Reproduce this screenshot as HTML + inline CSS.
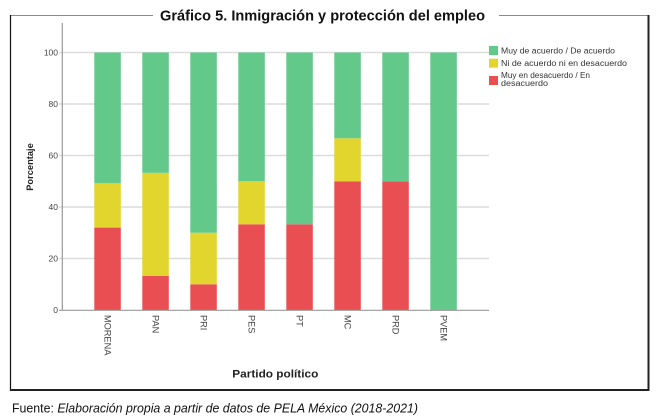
<!DOCTYPE html>
<html>
<head>
<meta charset="utf-8">
<style>
html,body{margin:0;padding:0;background:#fff;}
svg{display:block;}
text{font-family:"Liberation Sans",Arial,sans-serif;}
</style>
</head>
<body>
<svg width="660" height="418" viewBox="0 0 660 418" xmlns="http://www.w3.org/2000/svg">
  <rect width="660" height="418" fill="#fff"/>
  <!-- frame -->
  <line x1="10" y1="15.5" x2="153" y2="15.5" stroke="#8a8a8a" stroke-width="1"/>
  <line x1="499" y1="15.5" x2="649" y2="15.5" stroke="#8a8a8a" stroke-width="1"/>
  <line x1="10.5" y1="15" x2="10.5" y2="391" stroke="#111" stroke-width="1.2"/>
  <line x1="648.5" y1="15" x2="648.5" y2="391" stroke="#222" stroke-width="2"/>
  <line x1="10" y1="390" x2="649.5" y2="390" stroke="#222" stroke-width="2"/>
  <!-- title -->
  <text x="160" y="20.5" font-size="15" font-weight="bold" fill="#111" textLength="325" lengthAdjust="spacingAndGlyphs">Gráfico 5.  Inmigración y protección del empleo</text>

  <!-- gridlines -->
  <g stroke="#dcdcdc" stroke-width="1.5">
    <line x1="59" y1="52.5" x2="489" y2="52.5"/>
    <line x1="59" y1="104" x2="489" y2="104"/>
    <line x1="59" y1="155.5" x2="489" y2="155.5"/>
    <line x1="59" y1="207" x2="489" y2="207"/>
    <line x1="59" y1="258.5" x2="489" y2="258.5"/>
  </g>
  <!-- tick labels -->
  <g font-size="8.5" fill="#444" text-anchor="end">
    <text x="58" y="55.5">100</text>
    <text x="58" y="107">80</text>
    <text x="58" y="158.5">60</text>
    <text x="58" y="210">40</text>
    <text x="58" y="261.5">20</text>
    <text x="58" y="313">0</text>
  </g>
  <text transform="translate(33,167) rotate(-90)" font-size="9.3" font-weight="bold" fill="#222" text-anchor="middle">Porcentaje</text>

  <!-- bars -->
  <g>
    <!-- MORENA -->
    <rect x="94.3" y="227.6" width="26.5" height="82.4" fill="#e94e52"/>
    <rect x="94.3" y="183.3" width="26.5" height="44.3" fill="#e1d52e"/>
    <rect x="94.3" y="52.5" width="26.5" height="130.8" fill="#62c98b"/>
    <!-- PAN -->
    <rect x="142.3" y="276" width="26.5" height="34" fill="#e94e52"/>
    <rect x="142.3" y="172.8" width="26.5" height="103.2" fill="#e1d52e"/>
    <rect x="142.3" y="52.5" width="26.5" height="120.3" fill="#62c98b"/>
    <!-- PRI -->
    <rect x="190.3" y="284.3" width="26.5" height="25.7" fill="#e94e52"/>
    <rect x="190.3" y="232.7" width="26.5" height="51.6" fill="#e1d52e"/>
    <rect x="190.3" y="52.5" width="26.5" height="180.2" fill="#62c98b"/>
    <!-- PES -->
    <rect x="238.3" y="224.3" width="26.5" height="85.7" fill="#e94e52"/>
    <rect x="238.3" y="181.3" width="26.5" height="43" fill="#e1d52e"/>
    <rect x="238.3" y="52.5" width="26.5" height="128.8" fill="#62c98b"/>
    <!-- PT -->
    <rect x="286.3" y="224.3" width="26.5" height="85.7" fill="#e94e52"/>
    <rect x="286.3" y="52.5" width="26.5" height="171.8" fill="#62c98b"/>
    <!-- MC -->
    <rect x="334.3" y="181.3" width="26.5" height="128.7" fill="#e94e52"/>
    <rect x="334.3" y="138.3" width="26.5" height="43" fill="#e1d52e"/>
    <rect x="334.3" y="52.5" width="26.5" height="85.8" fill="#62c98b"/>
    <!-- PRD -->
    <rect x="382.3" y="181.3" width="26.5" height="128.7" fill="#e94e52"/>
    <rect x="382.3" y="52.5" width="26.5" height="128.8" fill="#62c98b"/>
    <!-- PVEM -->
    <rect x="430.3" y="52.5" width="26.5" height="257.5" fill="#62c98b"/>
  </g>

  <!-- axes -->
  <line x1="62.3" y1="23" x2="62.3" y2="310.5" stroke="#999" stroke-width="1.2"/>
  <line x1="59" y1="310.3" x2="489" y2="310.3" stroke="#999" stroke-width="1.2"/>

  <!-- x labels -->
  <g font-size="9.2" fill="#444">
    <text transform="translate(107.5,315) rotate(90)" dominant-baseline="central">MORENA</text>
    <text transform="translate(155.5,315) rotate(90)" dominant-baseline="central">PAN</text>
    <text transform="translate(203.5,315) rotate(90)" dominant-baseline="central">PRI</text>
    <text transform="translate(251.5,315) rotate(90)" dominant-baseline="central">PES</text>
    <text transform="translate(299.5,315) rotate(90)" dominant-baseline="central">PT</text>
    <text transform="translate(347.5,315) rotate(90)" dominant-baseline="central">MC</text>
    <text transform="translate(395.5,315) rotate(90)" dominant-baseline="central">PRD</text>
    <text transform="translate(443.5,315) rotate(90)" dominant-baseline="central">PVEM</text>
  </g>
  <text x="232.3" y="377.3" font-size="11" font-weight="bold" fill="#222" textLength="86" lengthAdjust="spacingAndGlyphs">Partido político</text>

  <!-- legend -->
  <rect x="489" y="46" width="9" height="9" fill="#62c98b"/>
  <rect x="489" y="58.7" width="9" height="9" fill="#e1d52e"/>
  <rect x="489" y="76" width="9" height="9" fill="#e94e52"/>
  <g font-size="8" fill="#333">
    <text x="501" y="53.5" textLength="114" lengthAdjust="spacingAndGlyphs">Muy de acuerdo / De acuerdo</text>
    <text x="501" y="66" textLength="126" lengthAdjust="spacingAndGlyphs">Ni de acuerdo ni en desacuerdo</text>
    <text x="501" y="77.8" textLength="89" lengthAdjust="spacingAndGlyphs">Muy en desacuerdo / En</text>
    <text x="501" y="86.2" textLength="47" lengthAdjust="spacingAndGlyphs">desacuerdo</text>
  </g>

  <!-- footer -->
  <text x="12" y="412.3" font-size="13" fill="#111" textLength="406" lengthAdjust="spacingAndGlyphs">Fuente: <tspan font-style="italic">Elaboración propia a partir de datos de PELA México (2018-2021)</tspan></text>
</svg>
</body>
</html>
